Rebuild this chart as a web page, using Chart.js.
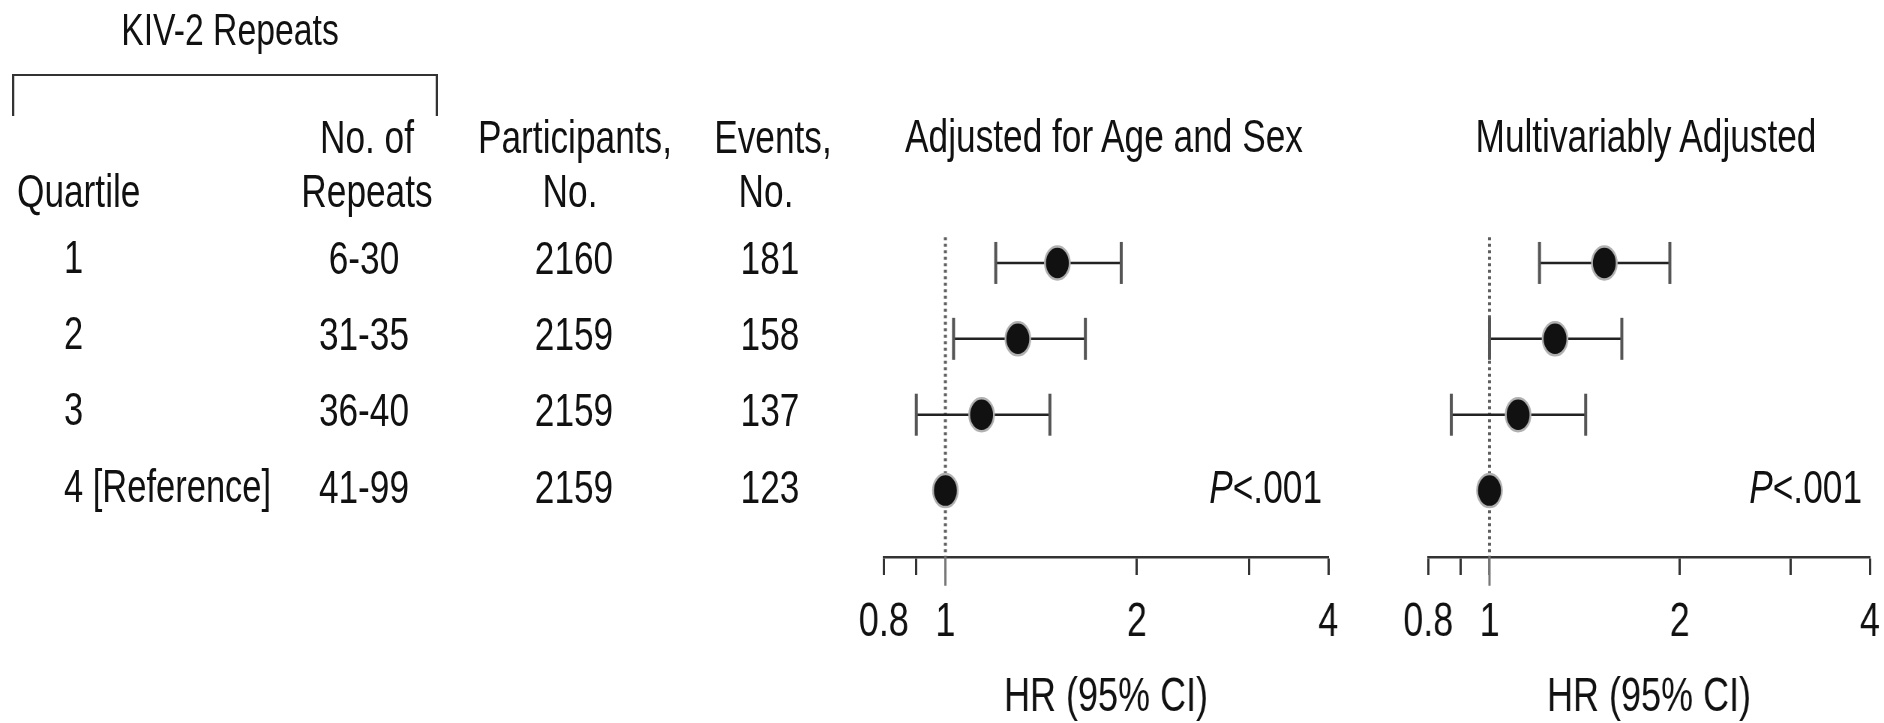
<!DOCTYPE html>
<html lang="en">
<head>
  <meta charset="UTF-8" />
  <title>KIV-2 Repeats – Hazard Ratios</title>
  <script src="https://cdn.jsdelivr.net/npm/chart.js"></script>
  <style>
    html, body {
      margin: 0;
      padding: 0;
      background: #fff;
      overflow: hidden;
    }
    body {
      width: 1884px;
      height: 723px;
      position: relative;
    }
    /* the figure is drawn wide and squeezed horizontally, like the original scan */
    #fig {
      position: absolute;
      left: 0;
      top: 0;
      width: 2512px;
      height: 723px;
      transform: scaleX(0.75);
      transform-origin: 0 0;
      font-family: 'Liberation Sans', Arial, Helvetica, sans-serif;
      color: #111;
    }
    .txt {
      position: absolute;
      line-height: 1;
      white-space: nowrap;
    }
    #bracket {
      position: absolute;
      left: 16px;
      top: 74px;
      width: 568px;
      height: 42px;
      border: 3px solid #333;
      border-top-width: 2.5px;
      border-bottom: none;
      box-sizing: border-box;
    }
    canvas {
      position: absolute;
      top: 200px;
    }
  </style>
</head>
<body>
  <div id="fig">
    <div id="bracket"></div>
    <canvas id="ageSexChart" width="690" height="527" style="left:1125.67px;width:690px;height:527px"></canvas>
    <canvas id="multiChart" width="686" height="527" style="left:1852.33px;width:686px;height:527px"></canvas>
  </div>

  <script>
    // table columns
    const quartiles = ['1', '2', '3', '4 [Reference]'];
    const repeatRanges = ['6-30', '31-35', '36-40', '41-99'];
    const participants = [2160, 2159, 2159, 2159];
    const events = [181, 158, 137, 123];

    // hazard ratios, adjusted for age and sex
    const hrAgeSex = [1.50, 1.30, 1.14, 1.00];
    const loAgeSex = [1.20, 1.03, 0.90, null];
    const hiAgeSex = [1.89, 1.66, 1.46, null];

    // hazard ratios, multivariably adjusted
    const hrMulti = [1.52, 1.27, 1.11, 1.00];
    const loMulti = [1.20, 1.00, 0.87, null];
    const hiMulti = [1.93, 1.62, 1.42, null];

    const tickValues = [0.8, 0.9, 1, 2, 3, 4];
    const tickLabels = ['0.8', '', '1', '2', '', '4'];

    const SX = 0.75;
    const FONT = "'Liberation Sans', Arial, Helvetica, sans-serif";
    const Y_MAX = 4.875;
    const fig = document.getElementById('fig');

    function put(html, x, y, align, size) {
      const d = document.createElement('div');
      d.className = 'txt';
      d.innerHTML = html;
      d.style.left = (x / SX) + 'px';
      d.style.top = (y - size / 2) + 'px';
      d.style.fontSize = size + 'px';
      if (align === 'center') d.style.transform = 'translateX(-50%)';
      if (align === 'right') d.style.transform = 'translateX(-100%)';
      fig.appendChild(d);
    }

    // headers
    put('KIV-2 Repeats', 230, 29, 'center', 45);
    put('Quartile', 17, 190, 'left', 47);
    put('No. of', 367, 136, 'center', 47);
    put('Repeats', 367, 190, 'center', 47);
    put('Participants,', 575, 136, 'center', 47);
    put('No.', 570, 190, 'center', 47);
    put('Events,', 773, 136, 'center', 47);
    put('No.', 766, 190, 'center', 47);
    put('Adjusted for Age and Sex', 1104, 135, 'center', 47);
    put('Multivariably Adjusted', 1646, 135, 'center', 47);

    // rows
    const rowY = [257, 333, 409, 486];
    quartiles.forEach((q, i) => {
      put(q, 64, rowY[i], 'left', 46);
      put(repeatRanges[i], 364, rowY[i], 'center', 47);
      put(String(participants[i]), 574, rowY[i], 'center', 47);
      put(String(events[i]), 770, rowY[i], 'center', 47);
    });
    put('<i>P</i>&lt;.001', 1322, 486, 'right', 47);
    put('<i>P</i>&lt;.001', 1862, 486, 'right', 47);

    function makePanel(id, hr, lo, hi) {
      const datasets = [{
        data: hr.map((v, i) => ({ x: v, y: i + 1 })),
        showLine: false,
        pointRadius: 16.5,
        pointHoverRadius: 16.5,
        pointBackgroundColor: '#111',
        pointBorderColor: '#b0b0b0',
        pointBorderWidth: 2.5,
        order: 0,
        clip: false
      }];
      hr.forEach((v, i) => {
        if (lo[i] == null) return;
        datasets.push({
          data: [{ x: lo[i], y: i + 1 }, { x: hi[i], y: i + 1 }],
          showLine: true,
          borderColor: '#222',
          borderWidth: 2.5,
          pointStyle: 'line',
          pointRotation: 90,
          pointRadius: 21,
          pointHoverRadius: 21,
          pointBorderColor: '#555',
          pointBorderWidth: 4,
          order: 1,
          clip: false
        });
      });
      // dotted line at HR = 1
      datasets.push({
        data: [{ x: 1, y: 0.66 }, { x: 1, y: Y_MAX }],
        showLine: true,
        borderColor: '#5e5e5e',
        borderWidth: 4,
        borderDash: [3, 3.5],
        pointRadius: 0,
        order: 2,
        clip: false
      });
      // longer tick under 1
      datasets.push({
        data: [{ x: 1, y: Y_MAX }, { x: 1, y: Y_MAX + 0.38 }],
        showLine: true,
        borderColor: '#777',
        borderWidth: 3,
        pointRadius: 0,
        order: 2,
        clip: false
      });

      return new Chart(document.getElementById(id), {
        type: 'scatter',
        data: { datasets },
        options: {
          responsive: false,
          animation: false,
          events: [],
          layout: { padding: { left: 45, right: 45, top: 20, bottom: 0 } },
          plugins: { legend: { display: false }, tooltip: { enabled: false } },
          scales: {
            x: {
              type: 'logarithmic',
              min: 0.8,
              max: 4,
              afterBuildTicks: s => { s.ticks = tickValues.map(v => ({ value: v })); },
              afterFit: s => { s.height = 170; },
              ticks: {
                autoSkip: false,
                maxRotation: 0,
                padding: 19,
                color: '#111',
                font: { family: FONT, size: 48 },
                callback: v => {
                  const i = tickValues.indexOf(v);
                  return i < 0 ? '' : tickLabels[i];
                }
              },
              grid: {
                drawOnChartArea: false,
                drawTicks: true,
                tickLength: 18,
                tickWidth: 3,
                tickColor: c => (c.tick && c.tick.value === 1 ? '#777' : '#333')
              },
              border: { display: true, color: '#333', width: 2.5 },
              title: {
                display: true,
                text: 'HR (95% CI)',
                color: '#111',
                font: { family: FONT, size: 48 },
                padding: 0
              }
            },
            y: { type: 'linear', reverse: true, min: 0.5, max: Y_MAX, display: false }
          }
        }
      });
    }

    makePanel('ageSexChart', hrAgeSex, loAgeSex, hiAgeSex);
    makePanel('multiChart', hrMulti, loMulti, hiMulti);
  </script>
</body>
</html>
